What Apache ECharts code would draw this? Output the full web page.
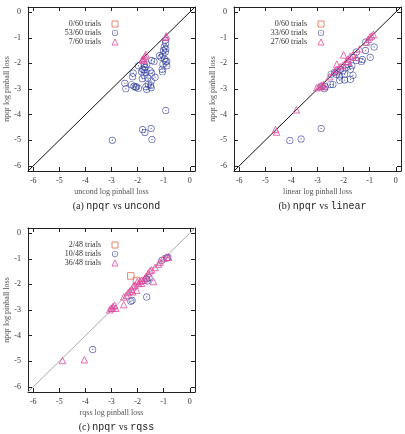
<!DOCTYPE html>
<html>
<head>
<meta charset="utf-8">
<script src="https://cdn.jsdelivr.net/npm/echarts@6/dist/echarts.min.js"></script>
<style>
  html, body { margin: 0; padding: 0; background: #fff; }
  #chart { width: 405px; height: 434px; }
</style>
</head>
<body>
<div id="chart"></div>
<script>
// axis range shared by all three panels
const axisMin = -6.2;
const axisMax = 0.2;
const diagonal = [[axisMin, axisMin], [axisMax, axisMax]];

// (a) npqr vs uncond
const aSquares = [];
const aCircles = [
  [-0.94, -1.10], [-0.92, -1.21], [-0.98, -1.36], [-0.92, -1.43], [-1.01, -1.50],
  [-0.94, -1.56], [-1.03, -1.67], [-1.16, -1.70], [-1.10, -1.76], [-0.97, -1.83],
  [-0.92, -1.93], [-0.88, -1.92], [-1.03, -2.03], [-0.88, -2.09], [-1.06, -2.23],
  [-1.05, -2.33],
  [-1.46, -1.89], [-1.37, -1.93], [-1.65, -2.03], [-1.75, -2.03], [-1.97, -2.09],
  [-1.72, -2.16], [-1.81, -2.23], [-1.75, -2.26], [-1.85, -2.33], [-1.68, -2.36],
  [-1.52, -2.29], [-1.46, -2.38], [-1.75, -2.46], [-1.82, -2.60], [-1.61, -2.57],
  [-1.33, -2.54], [-1.48, -2.69], [-1.59, -2.82], [-1.68, -2.91], [-1.50, -2.86],
  [-1.48, -2.95], [-1.65, -3.02],
  [-2.17, -2.38], [-2.19, -2.52], [-2.49, -2.78], [-2.45, -2.99], [-2.23, -2.83],
  [-2.14, -2.89], [-2.04, -2.91], [-1.97, -2.97], [-2.08, -2.93],
  [-2.97, -5.00], [-1.81, -4.58], [-1.72, -4.70], [-1.48, -4.54], [-1.45, -4.97],
  [-0.92, -3.84]
];
const aTriangles = [
  [-1.68, -1.65], [-1.72, -1.72], [-1.77, -1.80], [-1.82, -1.85], [-1.76, -1.88],
  [-0.90, -0.93], [-0.92, -0.98]
];

// (b) npqr vs linear
const bSquares = [];
const bCircles = [
  [-4.06, -5.01], [-3.63, -4.95], [-2.86, -4.54], [-0.83, -1.36], [-0.98, -1.76],
  [-1.15, -1.17], [-1.16, -1.50], [-1.51, -1.56], [-1.51, -1.89], [-1.32, -1.93],
  [-1.68, -2.09], [-1.74, -2.23], [-1.64, -2.46], [-1.74, -2.62], [-1.96, -2.65],
  [-2.15, -2.66], [-2.03, -2.29], [-2.22, -2.33], [-2.15, -2.49], [-2.28, -2.42],
  [-1.90, -2.16], [-2.41, -2.82], [-2.50, -2.82], [-2.70, -2.91], [-2.74, -2.99],
  [-2.86, -2.91], [-2.12, -2.23], [-1.96, -2.42], [-1.83, -2.03], [-2.35, -2.36],
  [-1.28, -1.85], [-2.48, -2.42], [-1.64, -1.76]
];
const bTriangles = [
  [-4.61, -4.58], [-4.57, -4.68], [-3.81, -3.81], [-3.03, -2.95], [-2.95, -2.91],
  [-2.86, -2.86], [-2.77, -2.82], [-2.77, -2.91], [-2.54, -2.52], [-2.35, -2.33],
  [-2.26, -2.23], [-2.13, -2.13], [-2.03, -2.07], [-2.00, -1.67], [-1.90, -1.93],
  [-1.83, -1.83], [-1.83, -1.93], [-1.74, -1.72], [-1.64, -1.67], [-1.51, -1.76],
  [-1.38, -1.43], [-1.12, -1.17], [-1.06, -1.06], [-0.99, -0.97], [-0.93, -0.93],
  [-0.86, -0.87], [-2.26, -2.03]
];

// (c) npqr vs rqss
const cSquares = [[-2.26, -1.67], [-2.04, -1.85]];
const cCircles = [
  [-3.72, -4.54], [-1.65, -2.49], [-2.21, -2.62], [-2.26, -2.66], [-1.56, -1.74],
  [-1.63, -1.87], [-1.07, -1.06], [-0.84, -0.94], [-0.88, -0.97], [-1.65, -1.79]
];
const cTriangles = [
  [-4.88, -4.97], [-4.04, -4.94], [-3.07, -2.99], [-3.01, -2.93], [-2.94, -2.86],
  [-2.88, -2.82], [-2.97, -2.93], [-2.84, -2.93], [-2.53, -2.79], [-2.53, -2.49],
  [-2.36, -2.32], [-2.30, -2.26], [-2.23, -2.19], [-2.17, -2.09], [-2.10, -2.03],
  [-2.04, -2.23], [-1.97, -1.96], [-1.91, -1.89], [-1.85, -1.84], [-1.78, -1.83],
  [-1.72, -1.76], [-1.68, -1.70], [-1.59, -1.56], [-1.52, -1.47], [-1.46, -1.43],
  [-1.39, -1.89], [-1.33, -1.34], [-1.20, -1.21], [-1.14, -1.13], [-1.01, -0.99],
  [-0.81, -0.94], [-0.88, -0.94], [-2.19, -2.29], [-1.85, -1.96], [-2.43, -2.42],
  [-2.01, -1.89]
];

const panels = [
  { tag: '(a)', other: 'uncond', xName: 'uncond log pinball loss', total: 60,
    squares: aSquares, circles: aCircles, triangles: aTriangles,
    left: 28, top: 7, lineColor: '#111' },
  { tag: '(b)', other: 'linear', xName: 'linear log pinball loss', total: 60,
    squares: bSquares, circles: bCircles, triangles: bTriangles,
    left: 234, top: 7, lineColor: '#111' },
  { tag: '(c)', other: 'rqss', xName: 'rqss log pinball loss', total: 48,
    squares: cSquares, circles: cCircles, triangles: cTriangles,
    left: 28, top: 228, lineColor: '#aaa' }
];

const W = 167, H = 164;
const serif = 'Liberation Serif';
const blue = '#2a3898';
const pink = '#e0489e';
const orange = '#e8694c';
// ring with a centre dot, like gnuplot's open circle
const ringDot = 'path://M0,-10A10,10 0 1,1 0,10A10,10 0 1,1 0,-10Z' +
  'M0,-8A8,8 0 1,0 0,8A8,8 0 1,0 0,-8Z' +
  'M0,-1.8A1.8,1.8 0 1,1 0,1.8A1.8,1.8 0 1,1 0,-1.8Z';

const intLabel = v => (Math.abs(v - Math.round(v)) < 1e-6 ? String(Math.round(v)) : '');

const grid = [], xAxis = [], yAxis = [], series = [], legend = [], title = [];

panels.forEach((p, i) => {
  grid.push({ left: p.left, top: p.top, width: W, height: H });
  const base = {
    gridIndex: i, type: 'value', min: axisMin, max: axisMax, splitNumber: 6,
    splitLine: { show: false },
    axisLine: { show: true, onZero: false, lineStyle: { color: '#222', width: 1 } },
    axisTick: { show: true, inside: true, length: 4, lineStyle: { color: '#222' } }
  };
  xAxis.push(Object.assign({}, base, {
    position: 'bottom', name: p.xName, nameLocation: 'middle', nameGap: 17,
    nameTextStyle: { fontFamily: serif, fontSize: 8, color: '#555' },
    axisLabel: { formatter: intLabel, fontFamily: serif, fontSize: 8, color: '#333', margin: 6 }
  }));
  xAxis.push(Object.assign({}, base, { position: 'top', axisLabel: { show: false } }));
  yAxis.push(Object.assign({}, base, {
    position: 'left', name: 'npqr log pinball loss', nameLocation: 'middle', nameGap: 17,
    nameTextStyle: { fontFamily: serif, fontSize: 8, color: '#555' },
    axisLabel: { formatter: intLabel, fontFamily: serif, fontSize: 8, color: '#333', margin: 7 }
  }));
  yAxis.push(Object.assign({}, base, { position: 'right', axisLabel: { show: false } }));

  const xi = i * 2, yi = i * 2;
  series.push({
    type: 'line', xAxisIndex: xi, yAxisIndex: yi, data: diagonal, symbol: 'none',
    silent: true, z: 1, lineStyle: { color: p.lineColor, width: 1 }
  });
  const names = [
    p.squares.length + '/' + p.total + ' trials',
    p.circles.length + '/' + p.total + ' trials',
    p.triangles.length + '/' + p.total + ' trials'
  ];
  series.push({
    name: names[0], type: 'scatter', xAxisIndex: xi, yAxisIndex: yi, data: p.squares,
    symbol: 'rect', symbolSize: 6.5, z: 3,
    itemStyle: { color: 'rgba(0,0,0,0)', borderColor: orange, borderWidth: 1 }
  });
  series.push({
    name: names[1], type: 'scatter', xAxisIndex: xi, yAxisIndex: yi, data: p.circles,
    symbol: ringDot, symbolSize: 7, z: 2,
    itemStyle: { color: blue }
  });
  series.push({
    name: names[2], type: 'scatter', xAxisIndex: xi, yAxisIndex: yi, data: p.triangles,
    symbol: 'triangle', symbolSize: 6.5, z: 4,
    itemStyle: { color: 'rgba(0,0,0,0)', borderColor: pink, borderWidth: 1 }
  });
  legend.push({
    data: names, orient: 'vertical', align: 'right',
    left: p.left + 20, top: p.top + 8, itemGap: 1, itemWidth: 6, itemHeight: 6,
    selectedMode: false,
    itemStyle: { borderWidth: 1 },
    textStyle: { fontFamily: serif, fontSize: 8, color: '#333', width: 48, align: 'right',
      padding: [0, 6, 0, 0], lineHeight: 8 }
  });
  title.push({
    text: p.tag + ' {m|npqr} vs {m|' + p.other + '}',
    left: p.left + W / 2, top: p.top + H + 25, textAlign: 'center',
    textStyle: { fontFamily: serif, fontSize: 10, fontWeight: 'normal', color: '#222',
      rich: { m: { fontFamily: 'Liberation Mono', fontSize: 10, color: '#222' } } }
  });
});

const chart = echarts.init(document.getElementById('chart'));
chart.setOption({
  backgroundColor: '#fff',
  animation: false,
  title, grid, xAxis, yAxis, legend, series
});
</script>
</body>
</html>
